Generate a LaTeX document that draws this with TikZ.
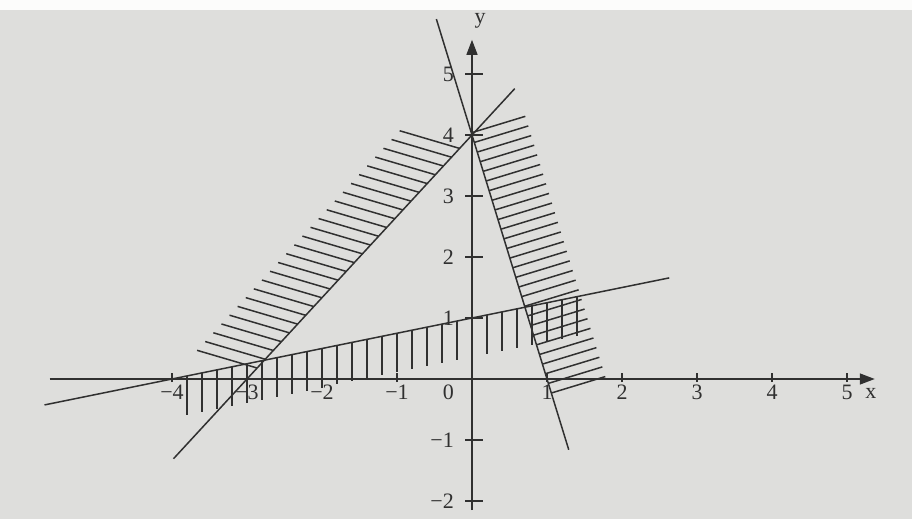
\documentclass[tikz,border=0pt]{standalone}
\usepackage{fontspec}
\setmainfont{Liberation Serif}
\usetikzlibrary{arrows.meta}
\definecolor{paper}{RGB}{222,222,220}
\definecolor{ink}{RGB}{48,48,48}
\begin{document}
\begin{tikzpicture}[x=75pt,y=61pt,
  curve/.style={draw=ink,line width=1.5pt},
  hatch/.style={draw=ink,line width=1.5pt},
  axis/.style={draw=ink,line width=1.5pt,-{Triangle[length=15pt,width=11pt]}},
  tickmark/.style={draw=ink,line width=1.3pt},
  lab/.style={font=\fontsize{22}{24}\selectfont,text=ink,inner sep=0pt}]
\fill[paper] (-472pt,-140pt) rectangle (440pt,379pt);
\fill[white!90!paper] (-472pt,369pt) rectangle (440pt,379pt);
\useasboundingbox (-472pt,-140pt) rectangle (440pt,379pt);
% hatching of line A (y = 4x/3 + 4), upper-left side
\foreach \k in {0,...,25}{
  \pgfmathsetmacro\yy{0.18+0.144*\k}
  \pgfmathsetmacro\xx{0.75*(\yy-4)}
  \draw[hatch] (\xx,\yy) -- ++(-0.8,0.29);
}
% hatching of line B (y = 4 - 4x), right side
\foreach \k in {0,...,27}{
  \pgfmathsetmacro\yy{-0.23+0.158*\k}
  \pgfmathsetmacro\xx{(4-\yy)/4}
  \draw[hatch] (\xx,\yy) -- ++(0.72,0.27);
}
% hatching of line C (y = x/4 + 1), below
\foreach \k in {0,...,26}{
  \pgfmathsetmacro\xx{-3.8+0.2*\k}
  \pgfmathsetmacro\yy{\xx/4+1}
  \draw[hatch] (\xx,\yy) -- ++(0,-0.64);
}
% axes
\coordinate (xleft) at (-5.63,0);
\coordinate (xright) at (5.37,0);
\coordinate (ybottom) at (0,-2.15);
\coordinate (ytop) at (0,5.56);
\draw[axis] (xleft) -- (xright);
\draw[axis] (ybottom) -- (ytop);
\foreach \i in {-4,-3,-2,-1,1,2,3,4,5}{
  \draw[tickmark] ([yshift=-3pt]\i,0) -- ([yshift=6pt]\i,0);
}
\foreach \j in {-2,-1,1,2,3,4,5}{
  \draw[tickmark] ([xshift=-7pt]0,\j) -- ([xshift=11pt]0,\j);
}
\foreach \i/\t in {-4/−4,-3/−3,-2/−2,-1/−1,1/1,2/2,3/3,4/4,5/5}{
  \node[lab,anchor=north] (xlab\i) at ([yshift=-6pt]\i,0) {\t};
}
\node[lab,anchor=north east] (xlab0) at ([xshift=-18pt,yshift=-6pt]0,0) {0};
\foreach \j/\t in {-2/−2,-1/−1,1/1,2/2,3/3,4/4,5/5}{
  \node[lab,anchor=east] (ylab\j) at ([xshift=-18pt]0,\j) {\t};
}
\node[lab] (xname) at ([xshift=-4pt,yshift=-14pt]xright) {x};
\node[lab] (yname) at ([xshift=8pt,yshift=19pt]ytop) {y};
% the three lines
\coordinate (A1) at (-3.98,-1.307);
\coordinate (A2) at (0.57,4.76);
\coordinate (B1) at (-0.475,5.9);
\coordinate (B2) at (1.29,-1.16);
\coordinate (C1) at (-5.7,-0.425);
\coordinate (C2) at (2.63,1.6575);
\draw[curve] (A1) -- (A2);
\draw[curve] (B1) -- (B2);
\draw[curve] (C1) -- (C2);
\end{tikzpicture}
\end{document}
